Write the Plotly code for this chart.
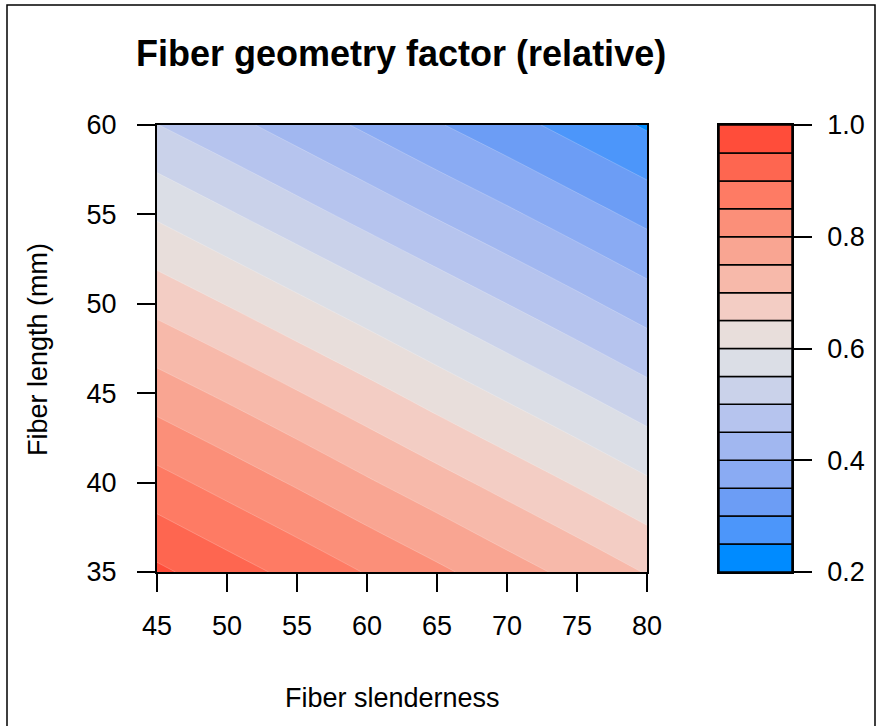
import plotly.graph_objects as go

W, H = 879, 726

# grid (relative fiber geometry factor)
slenderness = [45, 50, 55, 60, 65, 70, 75, 80]
length_mm = [35, 40, 45, 50, 55, 60]
factor = [
    [0.960, 0.922, 0.885, 0.847, 0.810, 0.772, 0.735, 0.697],
    [0.868, 0.831, 0.794, 0.756, 0.719, 0.682, 0.645, 0.607],
    [0.776, 0.740, 0.703, 0.666, 0.628, 0.591, 0.554, 0.516],
    [0.684, 0.648, 0.611, 0.574, 0.537, 0.500, 0.463, 0.425],
    [0.593, 0.556, 0.519, 0.482, 0.445, 0.409, 0.372, 0.335],
    [0.501, 0.465, 0.428, 0.391, 0.354, 0.318, 0.281, 0.244],
]

levels = [round(0.2 + 0.05 * i, 2) for i in range(17)]
band_colors = [
    "#008BFF", "#4C96FA", "#6C9DF5", "#8AABF3", "#A1B7F0", "#B6C4EE",
    "#CAD2EA", "#DBDEE6", "#E8DEDB", "#F3CDC4", "#F7B9AA", "#F9A592",
    "#FB8F79", "#FE7B64", "#FE6650", "#FF4D3A",
]
cbar_ticks = [0.2, 0.4, 0.6, 0.8, 1.0]

FONT = "Liberation Sans, Arial, Helvetica, sans-serif"


def px_x(px):
    return px / W


def px_y(py):
    return 1 - py / H


# plotly samples fill colours at band midpoints mapped onto [start - cs/2, end + cs/2]
n = len(levels)
colorscale = [[0.0, band_colors[0]]]
for k, c in enumerate(band_colors):
    colorscale.append([(k + 1) / n, c])
colorscale.append([1.0, band_colors[-1]])

fig = go.Figure()
fig.add_trace(
    go.Contour(
        x=slenderness,
        y=length_mm,
        z=factor,
        autocontour=False,
        contours={"start": levels[0], "end": levels[-1], "size": 0.05, "coloring": "fill"},
        colorscale=colorscale,
        line={"width": 0.6, "color": "rgba(255,255,255,0.35)"},
        showscale=False,
        hoverinfo="skip",
        xaxis="x",
        yaxis="y",
    )
)

# colour key drawn as stacked boxes, one per contour band
fig.add_trace(
    go.Bar(
        x=[0] * len(band_colors),
        y=[levels[i + 1] - levels[i] for i in range(len(band_colors))],
        base=levels[:-1],
        width=1,
        marker={"color": band_colors, "line": {"color": "black", "width": 1.5}},
        showlegend=False,
        hoverinfo="skip",
        xaxis="x2",
        yaxis="y2",
    )
)

axis_common = {
    "showline": True,
    "linecolor": "black",
    "linewidth": 2,
    "mirror": True,
    "ticks": "outside",
    "ticklen": 18,
    "tickwidth": 1.5,
    "tickcolor": "black",
    "showgrid": False,
    "zeroline": False,
    "automargin": False,
    "tickfont": {"size": 27, "color": "black", "family": FONT},
}

fig.update_layout(
    width=W,
    height=H,
    margin={"l": 0, "r": 0, "t": 0, "b": 0, "pad": 0, "autoexpand": False},
    paper_bgcolor="white",
    plot_bgcolor="white",
    font={"family": FONT, "color": "black"},
    barmode="overlay",
    showlegend=False,
    xaxis={
        **axis_common,
        "domain": [px_x(157), px_x(647)],
        "range": [45, 80],
        "tickvals": slenderness,
        "ticklabelstandoff": 11,
        "anchor": "y",
    },
    yaxis={
        **axis_common,
        "domain": [px_y(572), px_y(125)],
        "range": [35, 60],
        "tickvals": length_mm,
        "ticklabelstandoff": 15,
        "anchor": "x",
    },
    xaxis2={
        "domain": [px_x(719), px_x(792)],
        "range": [-0.5, 0.5],
        "showline": True,
        "linecolor": "black",
        "linewidth": 1.5,
        "mirror": True,
        "showticklabels": False,
        "ticks": "",
        "showgrid": False,
        "zeroline": False,
        "automargin": False,
        "anchor": "y2",
    },
    yaxis2={
        **axis_common,
        "linewidth": 1.5,
        "domain": [px_y(572), px_y(125)],
        "range": [0.2, 1.0],
        "tickvals": cbar_ticks,
        "ticktext": [f"{v:.1f}" for v in cbar_ticks],
        "ticklabelstandoff": 10,
        "side": "right",
        "anchor": "x2",
    },
    annotations=[
        {
            "text": "<b>Fiber geometry factor (relative)</b>",
            "x": px_x(401), "y": px_y(54), "xref": "paper", "yref": "paper",
            "showarrow": False, "xanchor": "center", "yanchor": "middle",
            "font": {"size": 36, "color": "black", "family": FONT},
        },
        {
            "text": "Fiber slenderness",
            "x": px_x(392), "y": px_y(698), "xref": "paper", "yref": "paper",
            "showarrow": False, "xanchor": "center", "yanchor": "middle",
            "font": {"size": 27, "color": "black", "family": FONT},
        },
        {
            "text": "Fiber length (mm)",
            "x": px_x(38), "y": px_y(350), "xref": "paper", "yref": "paper",
            "showarrow": False, "xanchor": "center", "yanchor": "middle", "textangle": -90,
            "font": {"size": 27, "color": "black", "family": FONT},
        },
    ],
    shapes=[
        {
            "type": "rect", "xref": "paper", "yref": "paper",
            "x0": px_x(7), "x1": px_x(875), "y0": -0.02, "y1": px_y(5),
            "line": {"color": "black", "width": 1.5},
        }
    ],
)

fig.write_html(
    "out.html",
    config={"displayModeBar": False},
    post_script="document.body.style.margin='0';document.body.style.overflow='hidden';",
)
